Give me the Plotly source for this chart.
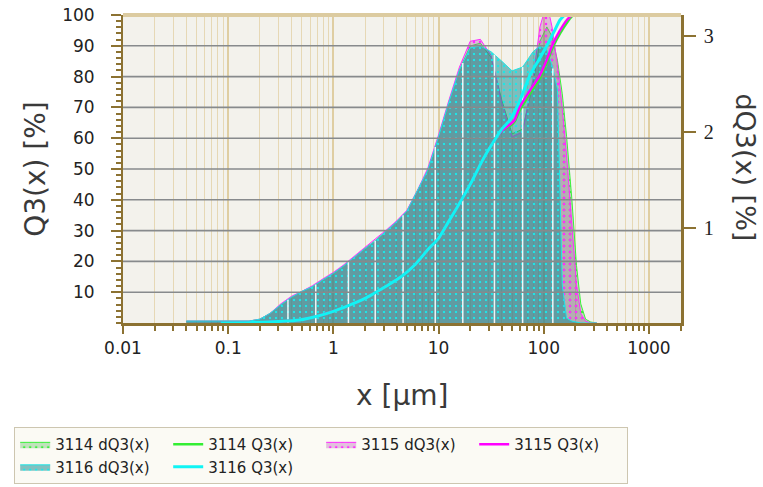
import numpy as np
import plotly.graph_objects as go

# ---------------- data ----------------
# particle size classes (µm) for the density histograms
x_classes = [0.04, 0.05, 0.063, 0.079, 0.1, 0.126, 0.158, 0.2, 0.25, 0.316, 0.4, 0.5, 0.63, 0.79,
             1.0, 1.26, 1.58, 2.0, 2.5, 3.16, 4.0, 5.0, 6.3, 7.9, 10, 12.6, 15.8, 20, 25, 31.6,
             40, 50, 63, 79, 92, 107, 120, 135, 150, 165, 185, 205, 225, 250, 280, 320]

dq3_3114 = [0.02, 0.02, 0.02, 0.02, 0.02, 0.02, 0.02, 0.04, 0.10, 0.19, 0.27, 0.33, 0.38, 0.45,
            0.52, 0.60, 0.69, 0.78, 0.86, 0.96, 1.06, 1.17, 1.38, 1.60, 1.95, 2.32, 2.65, 2.90, 2.93, 2.78,
            2.33, 1.98, 2.03, 2.50, 2.95, 3.10, 3.00, 2.75, 2.40, 1.95, 1.30, 0.60, 0.20, 0.04, 0.01, 0.0]
dq3_3115 = [0.02, 0.02, 0.02, 0.02, 0.02, 0.02, 0.02, 0.04, 0.10, 0.20, 0.28, 0.33, 0.39, 0.46,
            0.53, 0.61, 0.70, 0.80, 0.88, 0.97, 1.07, 1.18, 1.39, 1.62, 1.97, 2.34, 2.68, 2.95, 2.97, 2.80,
            2.30, 1.95, 2.00, 2.55, 3.10, 3.35, 3.10, 2.70, 2.25, 1.75, 1.00, 0.40, 0.10, 0.02, 0.0, 0.0]
dq3_3116 = [0.02, 0.02, 0.02, 0.02, 0.02, 0.02, 0.02, 0.04, 0.10, 0.19, 0.27, 0.33, 0.38, 0.45,
            0.52, 0.60, 0.69, 0.78, 0.86, 0.96, 1.06, 1.17, 1.38, 1.60, 1.95, 2.32, 2.65, 2.88, 2.90, 2.84,
            2.74, 2.64, 2.68, 2.84, 2.90, 2.86, 2.70, 2.45, 0.40, 0.05, 0.02, 0.01, 0.0, 0.0, 0.0, 0.0]

# cumulative distributions Q3 (%)
q3_3116_x = [0.085, 0.15, 0.2, 0.3, 0.48, 0.7, 1.0, 1.35, 2.0, 2.4, 3.2, 4.4, 6.0, 8.0, 10, 12.5, 15,
             20, 25, 29, 35, 40, 48, 59, 74, 90, 107, 125, 143, 159]
q3_3116_y = [0, 0.1, 0.25, 0.5, 1.0, 2.2, 3.8, 5.5, 8.0, 9.5, 12, 15, 19, 24, 27.5, 33, 37.5,
             45, 51.5, 55.5, 60, 63, 66, 72, 80.5, 85.5, 90, 94.5, 98.4, 100]
q3_3115_x = [0.085, 0.15, 0.2, 0.3, 0.48, 0.7, 1.0, 1.35, 2.0, 2.4, 3.2, 4.4, 6.0, 8.0, 10, 12.5, 15,
             20, 25, 29, 35, 40, 48, 53, 59, 74, 92, 107, 120, 140, 166, 185]
q3_3115_y = [0, 0.1, 0.25, 0.5, 1.0, 2.2, 3.8, 5.5, 8.0, 9.5, 12, 15, 19, 24, 27.5, 33, 37.5,
             45, 51.5, 55.5, 60, 62.5, 64.5, 66, 70, 75.5, 80.5, 85.5, 90, 94.5, 98.4, 100]
q3_3114_x = [0.085, 0.15, 0.2, 0.3, 0.48, 0.7, 1.0, 1.35, 2.0, 2.4, 3.2, 4.4, 6.0, 8.0, 10, 12.5, 15,
             20, 25, 29, 35, 40, 48, 53, 59, 74, 92, 107, 122, 143, 170, 190]
q3_3114_y = [0, 0.1, 0.25, 0.5, 1.0, 2.2, 3.8, 5.5, 8.0, 9.5, 12, 15, 19, 24, 27.5, 33, 37.5,
             45, 51.5, 55.5, 60, 62.5, 64, 65.5, 69, 74.5, 79.5, 84.5, 89.5, 94, 98, 100]

# positions of the white class separators seen in the histogram
gap_positions = [0.37, 0.68, 1.39, 2.5, 4.6, 9.3, 17, 34, 63, 122]

# ticks
x_tickvals = [0.01, 0.1, 1, 10, 100, 1000]
x_ticktext = ["0.01", "0.1", "1", "10", "100", "1000"]
q3_tickvals = [10, 20, 30, 40, 50, 60, 70, 80, 90, 100]
q3_ticktext = ["10", "20", "30", "40", "50", "60", "70", "80", "90", "100"]
dq3_tickvals = [1, 2, 3]
dq3_ticktext = ["1", "2", "3"]

# ---------------- style ----------------
X_RANGE_LOG = [-2, 3.305]
BROWN = "#8c7232"
FONT = "DejaVu Sans"

fig = go.Figure()

hist_styles = [
    ("3114 dQ3(x)", dq3_3114, "#3cf03c", "rgba(60,170,60,0.30)", 1),
    ("3115 dQ3(x)", dq3_3115, "#ff2cff", "rgba(170,60,170,0.30)", 3),
    ("3116 dQ3(x)", dq3_3116, "#20e4e4", "rgba(20,140,145,0.52)", 5),
]
for name, vals, fg, bg, rank in hist_styles:
    fig.add_trace(go.Scatter(
        x=x_classes, y=vals, name=name, mode="lines", yaxis="y", xaxis="x",
        line=dict(color=fg, width=1), fill="tozeroy", fillcolor=bg,
        fillpattern=dict(shape=".", fgcolor=fg, bgcolor=bg, size=6, solidity=0.14, fillmode="replace"),
        legendrank=rank, hoverinfo="skip",
    ))

# white separators (height taken from top histogram)
lx = np.log10(x_classes)
gx, gy = [], []
for g in gap_positions:
    h = float(np.interp(np.log10(g), lx, dq3_3116))
    gx += [g, g, None]
    gy += [0, h, None]
fig.add_trace(go.Scatter(x=gx, y=gy, mode="lines", yaxis="y", showlegend=False,
                         line=dict(color="rgba(255,255,255,0.9)", width=1.5), hoverinfo="skip"))

# horizontal grid lines on the Q3 axis (drawn above the histograms)
hx, hy = [], []
for v in q3_tickvals[:-1]:
    hx += [10 ** X_RANGE_LOG[0], 10 ** X_RANGE_LOG[1], None]
    hy += [v, v, None]
fig.add_trace(go.Scatter(x=hx, y=hy, mode="lines", yaxis="y2", showlegend=False,
                         line=dict(color="#878a8c", width=1.6), hoverinfo="skip"))

line_styles = [
    ("3114 Q3(x)", q3_3114_x, q3_3114_y, "#33ee33", 2.5, 2),
    ("3115 Q3(x)", q3_3115_x, q3_3115_y, "#ff00ff", 2.5, 4),
    ("3116 Q3(x)", q3_3116_x, q3_3116_y, "#10f4f4", 3, 6),
]
for name, xs, ys, col, w, rank in line_styles:
    fig.add_trace(go.Scatter(x=xs, y=ys, name=name, mode="lines", yaxis="y2",
                             line=dict(color=col, width=w, shape="spline", smoothing=0.6),
                             legendrank=rank, hoverinfo="skip"))

fig.update_layout(
    width=763, height=487,
    margin=dict(l=123, r=82, t=15, b=164, autoexpand=False),
    paper_bgcolor="white", plot_bgcolor="#f3f2ec",
    font=dict(family=FONT, size=17, color="#222222"),
    xaxis=dict(
        type="log", range=X_RANGE_LOG, automargin=False,
        tickmode="array", tickvals=x_tickvals, ticktext=x_ticktext,
        ticks="outside", ticklen=8, tickwidth=2, tickcolor=BROWN,
        showline=True, linecolor=BROWN, linewidth=3,
        showgrid=True, gridcolor="#dfcea2", gridwidth=1.6,
        minor=dict(dtick="D1", ticks="outside", ticklen=5, tickwidth=1.5, tickcolor=BROWN,
                   showgrid=True, gridcolor="#e6d8b5", gridwidth=1.4),
        tickfont=dict(family=FONT, size=17, color="#222"),
        zeroline=False, fixedrange=True,
    ),
    yaxis=dict(
        side="right", range=[0, 3.225], automargin=False,
        tickmode="array", tickvals=dq3_tickvals, ticktext=dq3_ticktext,
        ticks="outside", ticklen=12, tickwidth=2, tickcolor=BROWN,
        showline=True, linecolor=BROWN, linewidth=2.5,
        showgrid=False, zeroline=False,
        tickfont=dict(family="Liberation Serif", size=20, color="#222"),
        ticklabelstandoff=4,
    ),
    yaxis2=dict(
        side="left", overlaying="y", anchor="x", range=[0, 100], automargin=False,
        tickmode="array", tickvals=q3_tickvals, ticktext=q3_ticktext,
        ticks="outside", ticklen=10, tickwidth=2, tickcolor=BROWN,
        minor=dict(tickmode="linear", tick0=0, dtick=2, ticks="outside", ticklen=5,
                   tickwidth=1.5, tickcolor=BROWN, showgrid=False),
        showline=True, linecolor=BROWN, linewidth=2,
        showgrid=False, zeroline=False,
        tickfont=dict(family=FONT, size=17, color="#222"),
        ticklabelstandoff=13,
    ),
    legend=dict(
        orientation="h", x=-0.195, y=-0.338, xanchor="left", yanchor="top",
        entrywidth=108, entrywidthmode="pixels",
        bgcolor="#fbfaf4", bordercolor="#cdc6b0", borderwidth=1,
        font=dict(family=FONT, size=15, color="#222"),
        traceorder="normal",
    ),
    showlegend=True,
    shapes=[dict(type="line", xref="paper", yref="paper", x0=0, x1=1, y0=1, y1=1,
                 line=dict(color="#dccba0", width=4))],
    annotations=[
        dict(text="Q3(x) [%]", xref="paper", yref="paper", x=-0.158, y=0.5,
             textangle=-90, showarrow=False, xanchor="center", yanchor="middle",
             font=dict(family=FONT, size=28, color="#3a3a3a")),
        dict(text="dQ3(x) [%]", xref="paper", yref="paper", x=1.116, y=0.506,
             textangle=90, showarrow=False, xanchor="center", yanchor="middle",
             font=dict(family=FONT, size=27, color="#3a3a3a")),
        dict(text="x [µm]", xref="paper", yref="paper", x=0.5, y=-0.234,
             showarrow=False, xanchor="center", yanchor="middle",
             font=dict(family=FONT, size=28, color="#3a3a3a")),
    ],
)

fig.write_html("out.html", config={"displayModeBar": False},
               post_script="document.body.style.margin='0px';")
